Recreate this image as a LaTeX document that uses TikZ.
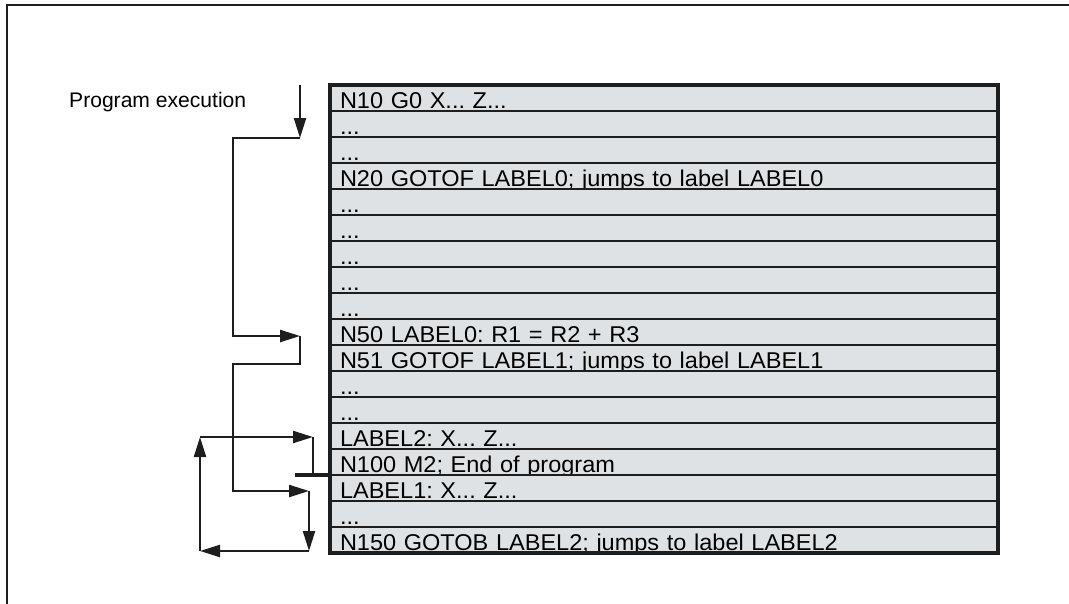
\documentclass[tikz,border=0pt]{standalone}
\usepackage{fontspec}
\setmainfont{Liberation Sans}
\newfontfamily\rowfont{Liberation Sans}[FakeStretch=1.03]
\usetikzlibrary{arrows.meta}
\definecolor{rowfill}{RGB}{223,226,229}
\definecolor{ink}{RGB}{30,30,30}
\newcommand{\etc}{...}
\frenchspacing
\tikzset{
  rowbox/.style={draw=ink, line width=0.4mm, fill=rowfill, anchor=north west,
    outer sep=0pt, inner xsep=2mm, inner ysep=0pt, text width=129.6mm,
    align=left, text height=4.7mm, text depth=0.5mm,
    font=\rowfont\fontsize{13pt}{15pt}\selectfont},
  flow/.style={ink, line width=0.45mm},
  tip/.style={flow, -{Triangle[length=4mm, width=2.4mm]}},
}
\begin{document}
\begin{tikzpicture}[x=0.2mm, y=-0.2mm]
    \useasboundingbox (0,0) rectangle (1069,604);

    % Marco
    \draw[ink, line width=0.45mm] (7,604) -- (7,5) -- (1069,5);

    % Lineas del programa
    \foreach \txt [count=\i from 0] in {
        {N10 G0 X\etc{} Z\etc}, \etc, \etc,
        {N20 GOTOF LABEL0; jumps to label LABEL0},
        \etc, \etc, \etc, \etc, \etc,
        {N50 LABEL0: R1 = R2 + R3},
        {N51 GOTOF LABEL1; jumps to label LABEL1},
        \etc, \etc,
        {LABEL2: X\etc{} Z\etc},
        {N100 M2; End of program},
        {LABEL1: X\etc{} Z\etc},
        \etc,
        {N150 GOTOB LABEL2; jumps to label LABEL2}}
        \node[rowbox] (r\i) at (330,{85+26*\i}) {\txt};
    \draw[ink, line width=0.8mm] (r0.north west) rectangle (r17.south east);

    % Etiqueta
    \node[anchor=base west, font=\fontsize{12pt}{14pt}\selectfont]
        (prog) at (63,107) {Program execution};

    % Puntos del recorrido
    \coordinate (go)   at (300,85);
    \coordinate (in0)  at (300,138);
    \coordinate (lab0) at (300,336);
    \coordinate (out0) at (300,364);
    \coordinate (lab1) at (309,491);
    \coordinate (end1) at (309,551);
    \coordinate (back) at (200,551);
    \coordinate (up)   at (200,437);
    \coordinate (lab2) at (313,437);
    \coordinate (stop) at (313,475);
    \coordinate (bar)  at (295,475);

    % Recorrido
    \draw[tip] (go) -- (in0);
    \draw[tip] (in0) -- ++(-67,0) |- (lab0);
    \draw[tip] (lab0) -- (out0) -- ++(-67,0) |- (lab1);
    \draw[tip] (lab1) -- (end1);
    \draw[tip] (end1) -- (back);
    \draw[tip] (back) -- (up);
    \draw[tip] (up) -- (lab2);
    \draw[flow] (lab2) -- (stop);

    % Fin del programa
    \draw[ink, line width=0.75mm] (bar) -- (r14.south west);
\end{tikzpicture}
\end{document}
